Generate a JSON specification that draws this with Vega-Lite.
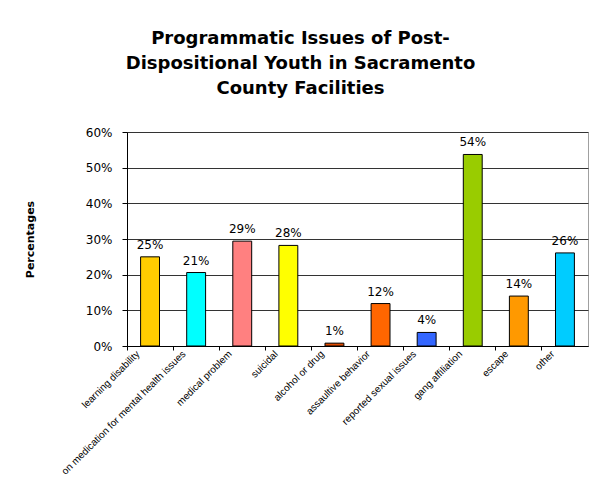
{
  "$schema": "https://vega.github.io/schema/vega-lite/v6.json",
  "width": 461,
  "height": 214,
  "autosize": {"type": "none"},
  "padding": {"left": 127, "top": 132, "right": 6, "bottom": 131},
  "background": "white",
  "title": {
    "text": ["Programmatic Issues of Post-", "Dispositional Youth in Sacramento", "County Facilities"],
    "font": "DejaVu Sans",
    "fontSize": 18,
    "fontWeight": "bold",
    "lineHeight": 25,
    "dx": -57,
    "offset": 28,
    "anchor": "middle",
    "color": "black"
  },
  "config": {
    "view": {"stroke": "#a0a0a0", "strokeWidth": 1},
    "font": "Liberation Sans"
  },
  "data": {
    "values": [
      {"issue": "learning disability", "pct": 0.250, "color": "#FFCC00"},
      {"issue": "on medication for mental health issues", "pct": 0.206, "color": "#00FFFF"},
      {"issue": "medical problem", "pct": 0.294, "color": "#FF8080"},
      {"issue": "suicidal", "pct": 0.282, "color": "#FFFF00"},
      {"issue": "alcohol or drug", "pct": 0.008, "color": "#E04A00"},
      {"issue": "assaultive behavior", "pct": 0.119, "color": "#FF6600"},
      {"issue": "reported sexual issues", "pct": 0.038, "color": "#3366FF"},
      {"issue": "gang affiliation", "pct": 0.537, "color": "#99CC00"},
      {"issue": "escape", "pct": 0.140, "color": "#FF9900"},
      {"issue": "other", "pct": 0.261, "color": "#00CCFF"}
    ]
  },
  "encoding": {
    "x": {
      "field": "issue",
      "type": "nominal",
      "sort": null,
      "scale": {"paddingInner": 0, "paddingOuter": 0},
      "axis": {
        "title": null,
        "labelAngle": -45,
        "labelAlign": "right",
        "labelBaseline": "middle",
        "labelFont": "Liberation Sans",
        "labelFontSize": 10,
        "labelColor": "black",
        "labelPadding": 2,
        "labelLimit": 200,
        "bandPosition": 0,
        "labelOffset": -12,
        "tickSize": 4,
        "tickColor": "black",
        "domainColor": "black",
        "grid": false
      }
    },
    "y": {
      "field": "pct",
      "type": "quantitative",
      "scale": {"domain": [0, 0.6], "nice": false},
      "axis": {
        "title": "Percentages",
        "titleFont": "DejaVu Sans",
        "titleFontSize": 11,
        "titleFontWeight": "bold",
        "titleColor": "black",
        "titlePadding": 50,
        "format": ".0%",
        "values": [0, 0.1, 0.2, 0.3, 0.4, 0.5, 0.6],
        "labelFont": "DejaVu Sans",
        "labelFontSize": 12,
        "labelColor": "black",
        "labelPadding": 10,
        "tickSize": 5,
        "tickColor": "black",
        "domainColor": "black",
        "grid": true,
        "gridColor": "#333333",
        "gridOpacity": 1
      }
    }
  },
  "layer": [
    {
      "mark": {"type": "bar", "width": {"band": 0.41}, "stroke": "black", "strokeWidth": 1},
      "encoding": {
        "color": {"field": "color", "type": "nominal", "scale": null}
      }
    },
    {
      "mark": {"type": "text", "baseline": "alphabetic", "dy": -8, "font": "DejaVu Sans", "fontSize": 12, "color": "black"},
      "encoding": {
        "text": {"field": "pct", "type": "quantitative", "format": ".0%"}
      }
    }
  ]
}
